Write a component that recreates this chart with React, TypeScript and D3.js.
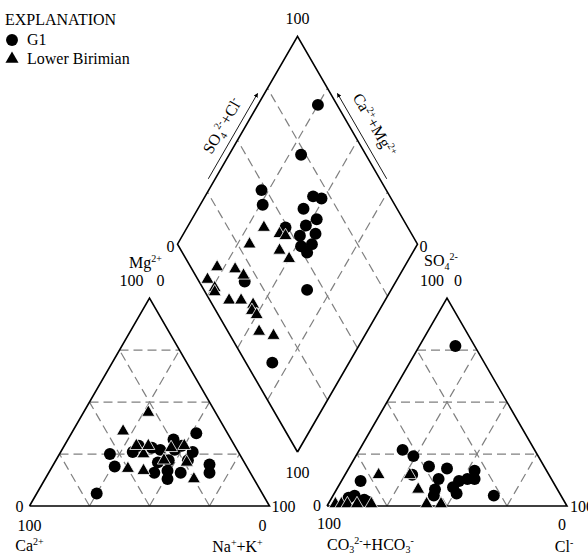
import * as d3 from "d3";

// cation triangle: [Mg %, Na+K %]
const g1Cation = [
  [35, 52], [25, 21], [19, 26], [26, 30], [29, 31], [28, 37], [27, 41],
  [32, 44], [27, 47], [29, 49], [26, 55], [22, 55], [22, 47], [21, 43],
  [17, 49], [16, 44], [13, 51], [16, 55], [20, 65], [16, 67], [6, 25],
];
const lbCation = [
  [45, 27], [36, 21], [18, 32], [17, 39], [25, 35], [29, 35], [22, 45],
  [21, 55], [13, 62], [29, 50], [29, 30], [28, 45],
];
// anion triangle: [SO4 %, Cl %]
const g1Anion = [
  [77, 15], [27, 18], [24, 24], [19, 33], [18, 41], [17, 53], [13, 55],
  [13, 52], [12, 49], [9, 48], [13, 40], [8, 41], [6, 51], [5, 67],
  [12, 8], [15, 28], [4, 7], [5, 9], [3, 14], [2, 16], [5, 42],
];
const lbAnion = [
  [15, 14], [8, 34], [1, 3], [1, 5.5], [1, 8], [1, 18], [1, 41], [1, 47],
  [15, 27], [1, 12],
];
// diamond: [Ca+Mg %, SO4+Cl %]
const g1Diamond = [
  [75, 92], [70, 73], [78, 48], [74, 45], [55, 68], [51, 71], [56, 61],
  [48, 64], [51, 58], [59, 49], [45, 60], [51, 53], [44, 56], [48, 51],
  [44, 52], [35, 43], [63, 19], [32, 11],
];
const lbDiamond = [
  [68, 40], [70, 30], [60, 45], [57, 47], [56, 41], [50, 43], [78, 11],
  [70, 18], [65, 20], [79, 4], [74, 5], [73, 4], [65, 8], [60, 13],
  [54, 17], [53, 15], [50, 16], [45, 13], [38, 18],
];
const gridSteps = [25, 50, 75];

const W = 588, H = 557;
const side = 240;
const th = (side * Math.sqrt(3)) / 2;
const base = 506;
const leftX0 = 29.5, rightX0 = 327;
const dCx = 297.5, dBottom = 452;

const FONT = "'Liberation Serif', 'Times New Roman', serif";

// ternary -> pixel
const cx = d3.scaleLinear().domain([0, 100]).range([leftX0, leftX0 + side]);
const ax = d3.scaleLinear().domain([0, 100]).range([rightX0, rightX0 + side]);
const ty = d3.scaleLinear().domain([0, 100]).range([base, base - th]);
const dx = d3.scaleLinear().domain([-100, 100]).range([dCx - side / 2, dCx + side / 2]);
const dy = d3.scaleLinear().domain([0, 200]).range([dBottom, dBottom - 2 * th]);

const catPt = (top: number, right: number): [number, number] => [cx(right + top / 2), ty(top)];
const anPt = (top: number, right: number): [number, number] => [ax(right + top / 2), ty(top)];
const diaPt = (a: number, b: number): [number, number] => [dx(b - a), dy(a + b)];

const circle = d3.symbol().type(d3.symbolCircle).size(112)();
const tri = d3.symbol().type(d3.symbolTriangle).size(74)();
const line = d3.line();

function triGrid(pt: (t: number, r: number) => [number, number]) {
  const segs: [number, number][][] = [];
  gridSteps.forEach((k) => {
    segs.push([pt(k, 0), pt(k, 100 - k)]);
    segs.push([pt(0, k), pt(100 - k, k)]);
    segs.push([pt(0, 100 - k), pt(100 - k, 0)]);
  });
  return segs;
}
function diaGrid() {
  const segs: [number, number][][] = [];
  gridSteps.forEach((k) => {
    segs.push([diaPt(k, 0), diaPt(k, 100)]);
    segs.push([diaPt(0, k), diaPt(100, k)]);
  });
  return segs;
}

function Sup({ children }: { children: string }) {
  return <tspan fontSize="10" dy="-6">{children}</tspan>;
}

function Marks({ pts, kind, pt }: { pts: number[][]; kind: "c" | "t"; pt: (a: number, b: number) => [number, number] }) {
  return (
    <g>
      {pts.map((d, i) => {
        const [x, y] = pt(d[0], d[1]);
        return kind === "c" ? (
          <path key={i} d={circle!} transform={`translate(${x},${y})`} fill="#000" />
        ) : (
          <path key={i} d={tri!} transform={`translate(${x},${y})`} fill="#000" stroke="#fff" strokeWidth={0.8} />
        );
      })}
    </g>
  );
}

export default function App() {
  const catOutline = [catPt(0, 0), catPt(0, 100), catPt(100, 0), catPt(0, 0)];
  const anOutline = [anPt(0, 0), anPt(0, 100), anPt(100, 0), anPt(0, 0)];
  const diaOutline = [diaPt(0, 0), diaPt(100, 0), diaPt(100, 100), diaPt(0, 100), diaPt(0, 0)];
  const grids = [...triGrid(catPt), ...triGrid(anPt), ...diaGrid()];

  // edge labels of the diamond
  const L0 = diaPt(100, 0), T = diaPt(100, 100), R0 = diaPt(0, 100);
  const along = (p: [number, number], q: [number, number], t: number, off: number, sgn: number) => {
    const ux = q[0] - p[0], uy = q[1] - p[1];
    const len = Math.hypot(ux, uy);
    const nx = (sgn * uy) / len, ny = (-sgn * ux) / len;
    return [p[0] + ux * t + nx * off, p[1] + uy * t + ny * off];
  };
  const la1 = along(L0, T, 0.3, 6, 1), la2 = along(L0, T, 0.71, 6, 1);
  const ra1 = along(R0, T, 0.3, 6, -1), ra2 = along(R0, T, 0.71, 6, -1);
  const lt = along(L0, T, 0.52, 20, 1);
  const rt = along(R0, T, 0.52, 22, -1);

  return (
    <svg width={W} height={H} style={{ position: "absolute", left: 0, top: 0, background: "#fff" }} fontFamily={FONT}>
      <defs>
        <marker id="ah" viewBox="0 0 6 6" refX="5" refY="3" markerWidth="5" markerHeight="5" orient="auto">
          <path d="M0,0 L6,3 L0,6 Z" fill="#000" />
        </marker>
      </defs>
      <rect width={W} height={H} fill="#fff" />
      <g stroke="#808080" strokeWidth={1.2} strokeDasharray="9,5" fill="none">
        {grids.map((s, i) => <path key={i} d={line(s)!} />)}
      </g>
      <g stroke="#000" strokeWidth={1.6} fill="none">
        <path d={line(catOutline)!} />
        <path d={line(anOutline)!} />
        <path d={line(diaOutline)!} />
      </g>
      <Marks pts={g1Cation} kind="c" pt={catPt} />
      <Marks pts={lbCation} kind="t" pt={catPt} />
      <Marks pts={g1Anion} kind="c" pt={anPt} />
      <Marks pts={lbAnion} kind="t" pt={anPt} />
      <Marks pts={g1Diamond} kind="c" pt={diaPt} />
      <Marks pts={lbDiamond} kind="t" pt={diaPt} />

      {/* diamond axis arrows */}
      <g stroke="#000" strokeWidth={0.9}>
        <line x1={la1[0]} y1={la1[1]} x2={la2[0]} y2={la2[1]} markerEnd="url(#ah)" />
        <line x1={ra1[0]} y1={ra1[1]} x2={ra2[0]} y2={ra2[1]} markerEnd="url(#ah)" />
      </g>

      <g fontSize="16" fill="#000">
        {/* legend */}
        <text x={5} y={25}>EXPLANATION</text>
        <path d={circle!} transform="translate(12,40)" />
        <text x={27} y={45}>G1</text>
        <path d={tri!} transform="translate(12,59)" />
        <text x={27} y={64}>Lower Birimian</text>

        {/* diamond */}
        <text x={T[0]} y={24} textAnchor="middle">100</text>
        <text x={L0[0] - 3} y={252} textAnchor="end">0</text>
        <text x={R0[0] + 2} y={252}>0</text>
        <text x={dCx} y={478} textAnchor="middle">100</text>
        <text transform={`translate(${lt[0]},${lt[1]}) rotate(-60)`} textAnchor="middle" dy="5">
          SO<tspan fontSize="10" dy="4">4</tspan><tspan fontSize="10" dy="-10">2-</tspan><tspan dy="6">+Cl</tspan><tspan fontSize="10" dy="-6">-</tspan>
        </text>
        <text transform={`translate(${rt[0]},${rt[1]}) rotate(60)`} textAnchor="middle" dy="5">
          Ca<Sup>2+</Sup><tspan dy="6">+Mg</tspan><Sup>2+</Sup>
        </text>

        {/* cation triangle */}
        <text x={catPt(100, 0)[0] - 4} y={268} textAnchor="middle">Mg<Sup>2+</Sup></text>
        <text x={catPt(100, 0)[0] - 30} y={286}>100</text>
        <text x={catPt(100, 0)[0] + 7} y={286}>0</text>
        <text x={leftX0 - 6} y={512} textAnchor="end">0</text>
        <text x={leftX0} y={531} textAnchor="middle">100</text>
        <text x={leftX0} y={551} textAnchor="middle">Ca<Sup>2+</Sup></text>
        <text x={leftX0 + side + 2} y={512}>100</text>
        <text x={leftX0 + side - 7} y={531} textAnchor="middle">0</text>
        <text x={leftX0 + side - 32} y={552} textAnchor="middle">Na<Sup>+</Sup><tspan dy="6">+K</tspan><Sup>+</Sup></text>

        {/* anion triangle */}
        <text x={anPt(100, 0)[0] - 6} y={266} textAnchor="middle">SO<tspan fontSize="10" dy="4">4</tspan><tspan fontSize="10" dy="-10">2-</tspan></text>
        <text x={anPt(100, 0)[0] - 27} y={286}>100</text>
        <text x={anPt(100, 0)[0] + 7} y={286}>0</text>
        <text x={rightX0 - 6} y={511} textAnchor="end">0</text>
        <text x={rightX0 + 2} y={529} textAnchor="middle">100</text>
        <text x={rightX0} y={550}>CO<tspan fontSize="10" dy="3">3</tspan><tspan fontSize="10" dy="-9">2-</tspan><tspan dy="6">+HCO</tspan><tspan fontSize="10" dy="3">3</tspan><tspan fontSize="10" dy="-9">-</tspan></text>
        <text x={rightX0 + side + 3} y={512}>100</text>
        <text x={rightX0 + side - 5} y={530} textAnchor="middle">0</text>
        <text x={rightX0 + side - 3} y={552} textAnchor="middle">Cl<Sup>-</Sup></text>
      </g>
    </svg>
  );
}
